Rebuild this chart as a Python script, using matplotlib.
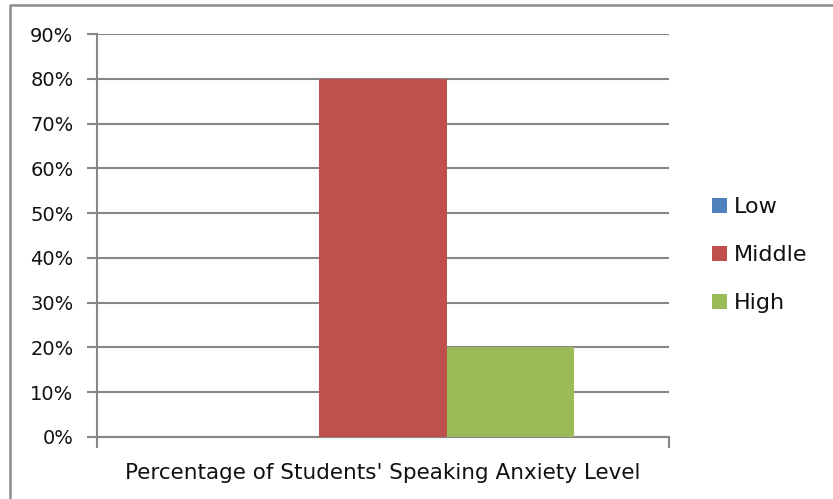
import matplotlib
matplotlib.use("Agg")
import matplotlib.pyplot as plt
from matplotlib.lines import Line2D
from matplotlib.patches import Patch
import numpy as np

category = "Percentage of Students' Speaking Anxiety Level"
series = ["Low", "Middle", "High"]
values = [0.0, 0.80, 0.20]
colors = ["#4F81BD", "#C0504D", "#9BBB59"]
yticks = [0, 0.1, 0.2, 0.3, 0.4, 0.5, 0.6, 0.7, 0.8, 0.9]

plt.rcParams['font.family'] = ['DejaVu Sans']
grid_c = "#868686"
txt_c = "#111111"

fig = plt.figure(figsize=(8.33, 4.99), dpi=100)
ax = fig.add_axes([97/833, 1-437/499, (669-97)/833, (437-34)/499])

w = 0.2224
for i, (v, c) in enumerate(zip(values, colors)):
    ax.bar(0.5 + (i-1)*w, v, width=w, color=c, label=series[i], zorder=3, linewidth=0)

ax.set_xlim(0, 1)
ax.set_ylim(0, 0.9)
ax.set_yticks(yticks)
ax.set_yticklabels([f"{int(round(t*100))}%" for t in yticks], fontsize=14, color=txt_c)
ax.yaxis.grid(True, color=grid_c, linewidth=1.5, zorder=0)
ax.set_xticks([0, 1])
ax.set_xticklabels([])
ax.set_xticks([0.5], minor=True)
ax.set_xticklabels([category], minor=True, fontsize=15.5, color=txt_c)
ax.tick_params(axis='x', which='minor', length=0, pad=19)
ax.tick_params(axis='x', which='major', length=8, width=1.5, color=grid_c, direction='out')
ax.tick_params(axis='y', length=7, width=1.5, color=grid_c, direction='out', pad=10)
for s in ['top', 'right']:
    ax.spines[s].set_visible(False)
for s in ['left', 'bottom']:
    ax.spines[s].set_color(grid_c)
    ax.spines[s].set_linewidth(1.5)

handles = [Patch(facecolor=c, edgecolor='none') for c in colors]
leg = fig.legend(handles, series, loc='center left', bbox_to_anchor=(711.5/833, 1-255/499),
                 frameon=False, fontsize=16, handlelength=0.68, handleheight=0.68,
                 handletextpad=0.32, labelspacing=1.26, borderaxespad=0, borderpad=0)
for t in leg.get_texts():
    t.set_color(txt_c)

# outer chart border (left and top visible)
fig.add_artist(Line2D([10/833, 10/833, 1.0], [0.0, 1-4.5/499, 1-4.5/499],
                      transform=fig.transFigure, color="#8c8c8c", linewidth=1.8))

fig.savefig("out.png", dpi=100)
